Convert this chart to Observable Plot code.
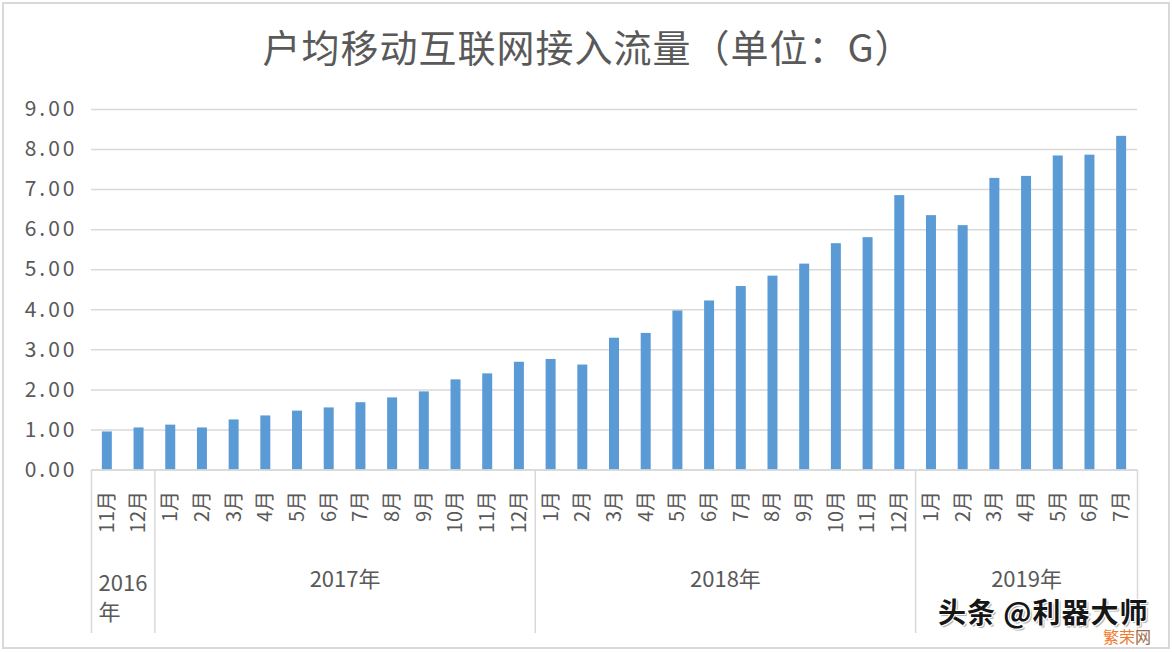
<!DOCTYPE html>
<html>
<head>
<meta charset="utf-8">
<script src="https://cdn.jsdelivr.net/npm/d3@7"></script>
<script src="https://cdn.jsdelivr.net/npm/@observablehq/plot@0.6"></script>
<style>
  body { margin: 0; background: #fff; }
  #frame { position: relative; width: 1172px; height: 652px; overflow: hidden; font-family: "Noto Sans CJK SC", "Noto Sans", sans-serif; background: #fff; }
  #border { position: absolute; left: 2px; top: 2px; width: 1168px; height: 647px; border: 2px solid #d9d9d9; box-sizing: border-box; }
  #title { position: absolute; left: 0; top: 27px; width: 1176px; text-align: center; font-size: 38px; line-height: 38px; color: #595959; white-space: nowrap; letter-spacing: 1px; }
  #chart { position: absolute; left: 0; top: 90px; }
  #chart g[aria-label="y-axis tick label"] text { letter-spacing: 3px; }
  #wm { position: absolute; left: 938px; top: 595px; font-size: 28px; line-height: 32px; font-weight: bold; color: #161616; white-space: nowrap; letter-spacing: 1px;
        text-shadow: 1px 1px 0 #fff, -1px -1px 0 #fff, 1px -1px 0 #fff, -1px 1px 0 #fff, 2px 2px 1px #aaa; }
  #wm2 { position: absolute; left: 1103px; top: 627px; font-size: 16px; line-height: 18px; color: #ef7a2e; white-space: nowrap; }
  #wm2 span { color: #9a6a4a; }
</style>
</head>
<body>
<div id="frame">
  <div id="border"></div>
  <div id="title">户均移动互联网接入流量（单位：G）</div>
  <div id="chart"></div>
  <div id="wm">头条 @利器大师</div>
  <div id="wm2">繁荣<span>网</span></div>
</div>
<script>
// ---- data ----
const monthLabels = [
  "11月","12月",
  "1月","2月","3月","4月","5月","6月","7月","8月","9月","10月","11月","12月",
  "1月","2月","3月","4月","5月","6月","7月","8月","9月","10月","11月","12月",
  "1月","2月","3月","4月","5月","6月","7月"
];
const yearOfBar = [
  "2016","2016",
  "2017","2017","2017","2017","2017","2017","2017","2017","2017","2017","2017","2017",
  "2018","2018","2018","2018","2018","2018","2018","2018","2018","2018","2018","2018",
  "2019","2019","2019","2019","2019","2019","2019"
];
const values = [
  0.95, 1.05,
  1.12, 1.05, 1.25, 1.35, 1.47, 1.55, 1.68, 1.80, 1.95, 2.25, 2.40, 2.69,
  2.76, 2.62, 3.29, 3.41, 3.97, 4.22, 4.58, 4.84, 5.14, 5.65, 5.80, 6.85,
  6.35, 6.10, 7.28, 7.33, 7.84, 7.86, 8.33
];
const yearKeys = ["2016", "2017", "2018", "2019"];
const yearNames = ["2016年", "2017年", "2018年", "2019年"];
const yTicks = [0, 1, 2, 3, 4, 5, 6, 7, 8, 9];

// ---- derived ----
const data = values.map((v, i) => ({
  key: yearOfBar[i] + "-" + monthLabels[i],
  month: monthLabels[i],
  year: yearOfBar[i],
  value: v
}));
const keys = data.map(d => d.key);

const W = 1172, H = 562, ML = 91, MR = 35, MT = 19, MB = 182.5;
const step = (W - ML - MR) / keys.length;
const pad = 0.685;
const barInset = step * pad / 2;
const ink = "#595959";
const lineC = "#d9d9d9";

const groups = yearKeys.map((y, gi) => {
  const idx = data.map((d, i) => d.year === y ? i : -1).filter(i => i >= 0);
  return { year: y, name: yearNames[gi], first: idx[0], last: idx[idx.length - 1], count: idx.length };
});

const leftEdges = groups.map(g => ({ key: keys[g.first] }));
const rightEdge = [{ key: keys[keys.length - 1] }];

const yearMarks = groups.map(g => {
  if (g.count < 3) {
    return Plot.text([g], {
      x: () => keys[g.first], y: () => 0,
      text: d => d.name.replace("年", "\n年"),
      textAnchor: "start", lineAnchor: "middle", lineHeight: 1.32,
      dx: -step / 2 + 7, dy: 126, fontSize: 22, fill: ink
    });
  }
  const m = (g.first + g.last) / 2;
  const fi = Math.floor(m);
  return Plot.text([g], {
    x: () => keys[fi], y: () => 0, text: "name",
    textAnchor: "middle", lineAnchor: "middle",
    dx: (m - fi) * step, dy: 110, fontSize: 22, fill: ink
  });
});

const chart = Plot.plot({
  width: W,
  height: H,
  marginLeft: ML,
  marginRight: MR,
  marginTop: MT,
  marginBottom: MB,
  style: { fontFamily: '"Noto Sans CJK SC", "Noto Sans", sans-serif', color: ink, background: "transparent", overflow: "visible" },
  x: { type: "band", domain: keys, padding: 0, round: false, axis: null },
  y: { domain: [0, 9], axis: null },
  marks: [
    Plot.gridY(yTicks, { stroke: lineC, strokeOpacity: 1, strokeWidth: 1.5 }),
    Plot.ruleX(leftEdges, { x: "key", y1: () => 0, y2: () => 0, dx: -step / 2, insetBottom: -163.5, stroke: lineC, strokeWidth: 1.5 }),
    Plot.ruleX(rightEdge, { x: "key", y1: () => 0, y2: () => 0, dx: step / 2, insetBottom: -163.5, stroke: lineC, strokeWidth: 1.5 }),
    Plot.barY(data, { x: "key", y: "value", fill: "#5b9bd5", insetLeft: barInset, insetRight: barInset }),
    Plot.ruleY([0], { stroke: lineC, strokeWidth: 1.5 }),
    Plot.axisY(yTicks, { tickSize: 0, tickPadding: 14, tickFormat: d3.format(".2f"), fontSize: 21, fill: ink, label: null }),
    Plot.text(data, {
      x: "key", y: () => 0, text: "month", rotate: -90,
      textAnchor: "end", lineAnchor: "middle", dy: 21, fontSize: 20, fill: ink
    }),
    ...yearMarks
  ]
});
document.getElementById("chart").appendChild(chart);
</script>
</body>
</html>
